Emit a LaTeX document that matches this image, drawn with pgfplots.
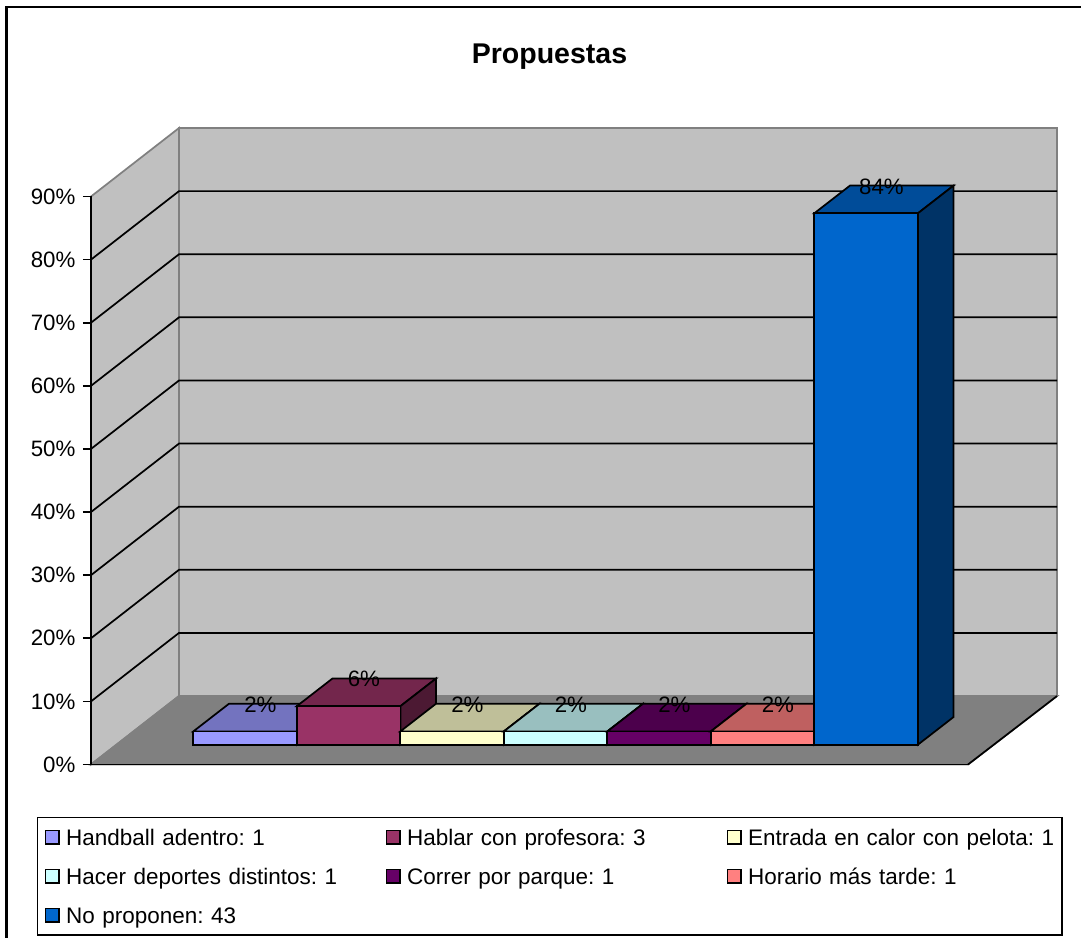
\documentclass[border=0pt]{standalone}
\usepackage{fontspec}
\setmainfont{Liberation Sans}
\usepackage{pgfplots}
\pgfplotsset{compat=1.18}

% x data are reference pixels, y data are percent; 1px = 0.75pt
\definecolor{wallc}{HTML}{C0C0C0}
\definecolor{floorc}{HTML}{808080}
\definecolor{frontA}{HTML}{9999FF}\definecolor{topA}{HTML}{7373BF}\definecolor{sideA}{HTML}{4C4C80}
\definecolor{frontB}{HTML}{993366}\definecolor{topB}{HTML}{73264C}\definecolor{sideB}{HTML}{4C1933}
\definecolor{frontC}{HTML}{FFFFCC}\definecolor{topC}{HTML}{BFBF99}\definecolor{sideC}{HTML}{808066}
\definecolor{frontD}{HTML}{CCFFFF}\definecolor{topD}{HTML}{99BFBF}\definecolor{sideD}{HTML}{668080}
\definecolor{frontE}{HTML}{660066}\definecolor{topE}{HTML}{4C004C}\definecolor{sideE}{HTML}{330033}
\definecolor{frontF}{HTML}{FF8080}\definecolor{topF}{HTML}{BF6060}\definecolor{sideF}{HTML}{804040}
\definecolor{frontG}{HTML}{0066CC}\definecolor{topG}{HTML}{004C99}\definecolor{sideG}{HTML}{003366}

\pgfplotsset{face/.style={draw=black,line width=1.3pt,line join=miter}}

% left edge, value, colour letter, legend text
\newcommand{\tbar}[4]{%
  \pgfmathsetmacro\xa{#1}%
  \pgfmathsetmacro\xb{#1+103.6}%
  \pgfmathsetmacro\xc{#1+35.7}%
  \pgfmathsetmacro\xd{#1+139.3}%
  \pgfmathsetmacro\ya{3.14}%
  \pgfmathsetmacro\yb{3.14+#2}%
  \pgfmathsetmacro\yc{3.14+4.39}%
  \pgfmathsetmacro\yd{3.14+4.39+#2}%
  \edef\doplot{\noexpand\addplot[face,fill=top#3,forget plot] coordinates
    {(\xa,\yb) (\xc,\yd) (\xd,\yd) (\xb,\yb)} -- cycle;
    \noexpand\addplot[face,fill=side#3,forget plot] coordinates
    {(\xb,\ya) (\xd,\yc) (\xd,\yd) (\xb,\yb)} -- cycle;
    \noexpand\addplot[face,fill=front#3] coordinates
    {(\xa,\ya) (\xb,\ya) (\xb,\yb) (\xa,\yb)} -- cycle;}%
  \doplot
  \addlegendentry{#4}%
}
\newcommand{\gridl}[2]{%
  \addplot[black,line width=1.3pt,forget plot] coordinates {(91,#1) (179,#2) (1057,#2)};%
}

\begin{document}
\frenchspacing
\begin{tikzpicture}
\useasboundingbox (-68.25pt,-130.125pt) rectangle ++(810.75pt,703.5pt);
\begin{axis}[
  scale only axis,
  width=657.75pt,
  height=426pt,
  xmin=91, xmax=968,
  ymin=0, ymax=90,
  clip=false,
  axis on top,
  axis y line=left,
  axis x line=bottom,
  axis line style={-,line width=1.3pt,black},
  xtick=\empty,
  ytick={0,10,20,30,40,50,60,70,80,90},
  yticklabel={\pgfmathprintnumber{\tick}\%},
  /pgf/number format/assume math mode=true,
  tick style={black,line width=1.3pt},
  major tick length=6pt,
  tick align=outside,
  ticklabel style={font=\fontsize{16.7}{20}\selectfont},
  yticklabel style={xshift=-2.2pt},
  title=Propuestas,
  title style={at={(0.5228,1.2315)},anchor=center,font=\fontsize{21.4}{25}\selectfont\bfseries},
  legend columns=3,
  legend cell align=left,
  legend image code/.code={\path (-5pt,0pt) (12.7pt,0pt);\draw[#1,line width=1.1pt] (0pt,-5pt) rectangle (10pt,5pt);},
  legend style={
    at={(axis cs:36.7,-8.27)},anchor=north west,
    draw=black,line width=1.3pt,fill=white,
    inner xsep=0.5pt,inner ysep=7.1pt,
    font=\fontsize{16.85}{20}\selectfont,
    row sep=13.75pt,
    nodes={inner xsep=2pt,inner ysep=0pt,text height=14pt,text depth=1.5pt,text width=232.7pt,align=left},
  },
]
% walls and floor
\addplot[fill=wallc,draw=floorc,line width=1.3pt,forget plot] coordinates {(91,0) (179,10.85) (179,100.85) (91,90)} -- cycle;
\addplot[fill=wallc,draw=floorc,line width=1.3pt,forget plot] coordinates {(179,10.85) (1057,10.85) (1057,100.85) (179,100.85)} -- cycle;
\addplot[fill=floorc,draw=floorc,line width=1.3pt,forget plot] coordinates {(91,0) (179,10.85) (1057,10.85) (968,0)} -- cycle;
\addplot[black,line width=1.3pt,forget plot] coordinates {(968,0) (1057,10.85)};
\gridl{10}{20.85}
\gridl{20}{30.85}
\gridl{30}{40.85}
\gridl{40}{50.85}
\gridl{50}{60.85}
\gridl{60}{70.85}
\gridl{70}{80.85}
\gridl{80}{90.85}
% bars, left to right
\tbar{193.3}{2.1}{A}{Handball adentro: 1}
\tbar{296.8}{6.1}{B}{Hablar con profesora: 3}
\tbar{400.3}{2.1}{C}{Entrada en calor con pelota: 1}
\tbar{503.8}{2.1}{D}{Hacer deportes distintos: 1}
\tbar{607.3}{2.1}{E}{Correr por parque: 1}
\tbar{710.8}{2.1}{F}{Horario más tarde: 1}
\tbar{814.3}{84.2}{G}{No proponen: 43}
% data labels sit on the back edge of each top face
\addplot[draw=none,forget plot,point meta=explicit,
  nodes near coords={\pgfmathprintnumber{\pgfplotspointmeta}\%},
  every node near coord/.append style={anchor=center,inner sep=0pt,font=\fontsize{16.7}{20}\selectfont}]
  table[meta=pct] {
  x y pct
  260.4 9.43 2
  363.9 13.5 6
  467.4 9.43 2
  570.9 9.43 2
  674.4 9.43 2
  777.9 9.43 2
  881.4 91.55 84
};
% outer frame: left and top edge only are inside the picture
\draw[black,line width=1.6pt] (axis cs:6.5,-27.6) -- (axis cs:6.5,120.03) -- (axis cs:1081,120.03);
\end{axis}
\end{tikzpicture}
\end{document}
